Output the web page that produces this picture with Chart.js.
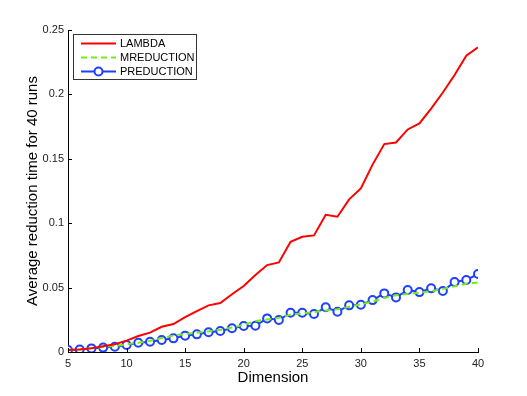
<!DOCTYPE html>
<html>
<head>
<meta charset="utf-8">
<script src="https://cdn.jsdelivr.net/npm/chart.js@4"></script>
<style>
  html, body { margin: 0; padding: 0; background: #fff; }
  #wrap { width: 527px; height: 396px; }
</style>
</head>
<body>
<div id="wrap"><canvas id="chart" width="527" height="396"></canvas></div>
<script>
// data
var dims = [5,6,7,8,9,10,11,12,13,14,15,16,17,18,19,20,21,22,23,24,25,26,27,28,29,30,31,32,33,34,35,36,37,38,39,40];
var lambda = [0.0015,0.002,0.003,0.0045,0.006,0.0088,0.0124,0.015,0.0196,0.0217,0.0270,0.0318,0.0362,0.0380,0.0448,0.0512,0.0598,0.0675,0.0695,0.0856,0.0895,0.0905,0.1065,0.1050,0.1185,0.1270,0.1455,0.1614,0.1627,0.1728,0.1775,0.1890,0.2015,0.2150,0.2300,0.2365];
var mreduction = [0.0015,0.002,0.003,0.0038,0.0048,0.006,0.0072,0.0088,0.0108,0.0128,0.0140,0.0150,0.0160,0.0172,0.0190,0.0210,0.0240,0.0252,0.0265,0.0290,0.0300,0.0310,0.0322,0.0332,0.0350,0.0370,0.0392,0.0420,0.0440,0.0450,0.0460,0.0472,0.0490,0.0510,0.0530,0.0540];
var preduction = [0.0016,0.0020,0.0028,0.0034,0.0041,0.0054,0.0072,0.0080,0.0093,0.0106,0.0127,0.0137,0.0153,0.0163,0.0184,0.0202,0.0204,0.0261,0.0248,0.0305,0.0305,0.0295,0.0347,0.0313,0.0362,0.0367,0.0403,0.0455,0.0424,0.0481,0.0465,0.0494,0.0473,0.0543,0.0559,0.0605];
var xTicks = [5,10,15,20,25,30,35,40];
var yTicks = [0,0.05,0.1,0.15,0.2,0.25];

var FONT = '"Liberation Sans", Arial, sans-serif';

function pts(ys) {
    return dims.map(function (d, i) { return { x: d, y: ys[i] }; });
}

// inward ticks like matlab, plus the boxed legend
var matlabBits = {
    id: 'matlabBits',
    afterDraw: function (chart) {
        var ctx = chart.ctx;
        var xs = chart.scales.x, ys = chart.scales.y;
        var area = chart.chartArea;
        ctx.save();
        ctx.strokeStyle = '#000';
        ctx.lineWidth = 1;
        ctx.beginPath();
        xTicks.forEach(function (t) {
            var px = Math.round(xs.getPixelForValue(t)) + 0.5;
            ctx.moveTo(px, area.bottom);
            ctx.lineTo(px, area.bottom - 4);
        });
        yTicks.forEach(function (t) {
            var py = Math.round(ys.getPixelForValue(t)) + 0.5;
            ctx.moveTo(area.left, py);
            ctx.lineTo(area.left + 4, py);
        });
        ctx.stroke();

        // legend
        var lx = 73.5, ly = 34.5, lw = 123, lh = 45;
        ctx.fillStyle = '#fff';
        ctx.fillRect(lx, ly, lw, lh);
        ctx.strokeStyle = '#333';
        ctx.lineWidth = 1;
        ctx.strokeRect(lx, ly, lw, lh);
        ctx.font = '11px ' + FONT;
        ctx.textBaseline = 'middle';
        var rows = [43.5, 57.5, 71.5];
        chart.data.datasets.forEach(function (ds, i) {
            var y = rows[i];
            ctx.strokeStyle = ds.borderColor;
            ctx.lineWidth = ds.borderWidth;
            ctx.setLineDash(ds.borderDash || []);
            ctx.beginPath();
            ctx.moveTo(81, y);
            ctx.lineTo(116, y);
            ctx.stroke();
            ctx.setLineDash([]);
            if (ds.pointRadius > 0) {
                ctx.beginPath();
                ctx.arc(98.5, y, ds.pointRadius, 0, Math.PI * 2);
                ctx.fillStyle = '#fff';
                ctx.fill();
                ctx.lineWidth = ds.pointBorderWidth;
                ctx.stroke();
            }
            ctx.fillStyle = '#000';
            ctx.fillText(ds.label, 120, y + 0.5);
        });
        ctx.restore();
    }
};

var ctx = document.getElementById('chart').getContext('2d');
new Chart(ctx, {
    type: 'line',
    data: {
        datasets: [{
            label: 'LAMBDA',
            data: pts(lambda),
            borderColor: '#ff0000',
            borderWidth: 2,
            pointRadius: 0,
            fill: false
        }, {
            label: 'MREDUCTION',
            data: pts(mreduction),
            borderColor: '#70ee10',
            borderWidth: 2,
            borderDash: [6, 4],
            pointRadius: 0,
            fill: false
        }, {
            label: 'PREDUCTION',
            data: pts(preduction),
            borderColor: '#1f3fff',
            borderWidth: 2,
            pointRadius: 4,
            pointBorderWidth: 2,
            pointBackgroundColor: '#fff',
            pointBorderColor: '#1f3fff',
            fill: false
        }]
    },
    options: {
        responsive: false,
        animation: false,
        events: [],
        layout: { padding: { left: 0, top: 30, right: 49, bottom: 0 } },
        plugins: {
            legend: { display: false },
            tooltip: { enabled: false }
        },
        scales: {
            x: {
                type: 'linear',
                min: 5,
                max: 40,
                afterFit: function (s) { s.height = 44; },
                afterBuildTicks: function (s) { s.ticks = xTicks.map(function (v) { return { value: v }; }); },
                grid: { display: false, drawTicks: false },
                border: { display: true, color: '#000', width: 1 },
                ticks: { color: '#222', padding: 5, font: { family: FONT, size: 11 } },
                title: {
                    display: true,
                    text: 'Dimension',
                    color: '#000',
                    font: { family: FONT, size: 15 },
                    padding: { top: 0, bottom: 9 }
                }
            },
            y: {
                min: 0,
                max: 0.25,
                afterFit: function (s) { s.width = 68; },
                afterBuildTicks: function (s) { s.ticks = yTicks.map(function (v) { return { value: v }; }); },
                grid: { display: false, drawTicks: false },
                border: { display: true, color: '#000', width: 1 },
                ticks: {
                    color: '#222',
                    padding: 4,
                    font: { family: FONT, size: 11 },
                    callback: function (v) { return String(+v.toFixed(2)); }
                },
                title: {
                    display: true,
                    text: 'Average reduction time for 40 runs',
                    color: '#000',
                    font: { family: FONT, size: 15 },
                    padding: { top: 24, bottom: 0 }
                }
            }
        }
    },
    plugins: [matlabBits]
});
</script>
</body>
</html>
